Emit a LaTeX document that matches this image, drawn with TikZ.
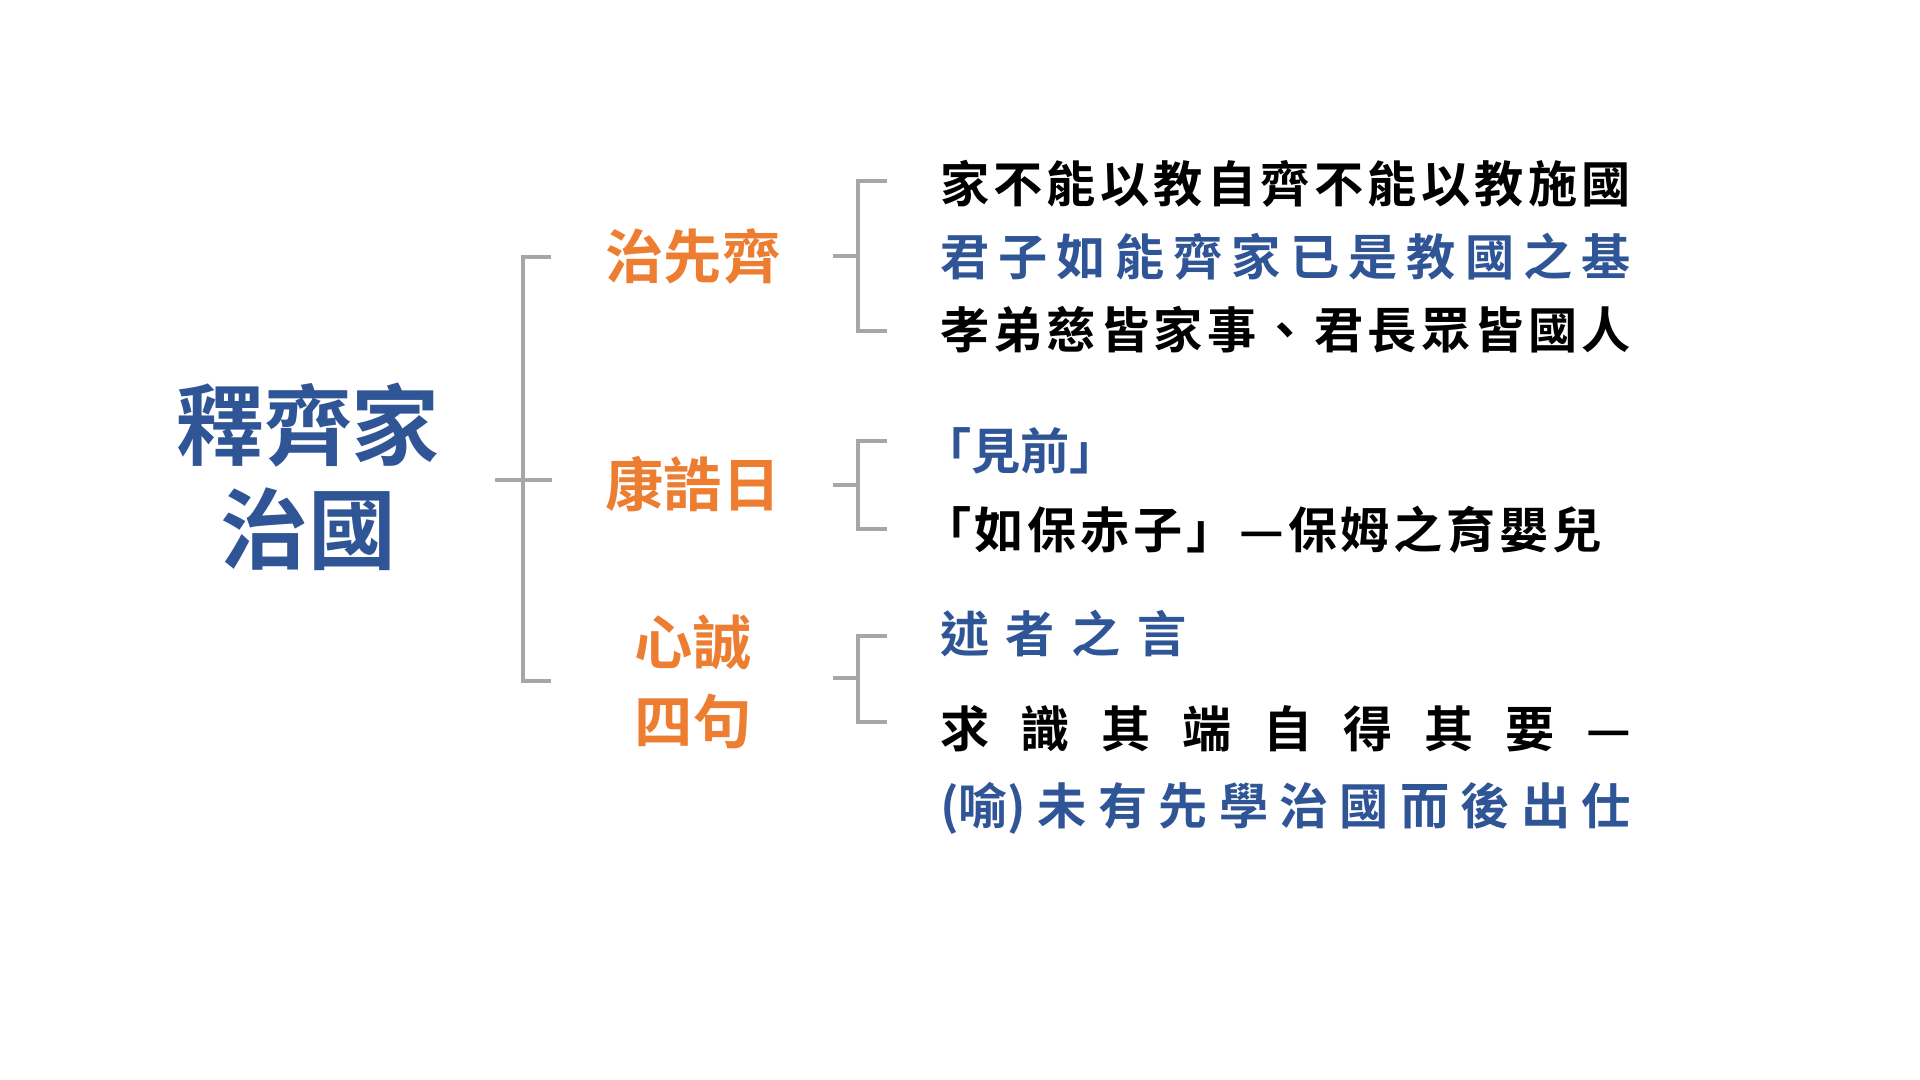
\documentclass[tikz,border=0pt]{standalone}
\usepackage{fontspec}
\setmainfont{Noto Sans CJK TC}[BoldFont={Noto Sans CJK TC Bold}]
\usetikzlibrary{positioning}
\definecolor{rootblue}{HTML}{2F5597}
\definecolor{branchorange}{HTML}{ED7D31}
\definecolor{linegray}{HTML}{A6A6A6}
\tikzset{root/.style={text=rootblue, font=\fontsize{25}{29.6}\selectfont\bfseries, align=center, inner sep=0}}
\tikzset{branch/.style={text=branchorange, font=\fontsize{16.6}{22.5}\selectfont\bfseries, align=center, inner sep=0}}
\tikzset{leaf/.style={font=\fontsize{14}{16}\selectfont\bfseries, text width=6.91cm, align=left, inner sep=0, node distance=0.73cm}}
\tikzset{line/.style={draw, linegray, line width=1pt}}

\begin{document}
\begin{tikzpicture}
    \fill[white] (0,0) rectangle (19.2,10.8);
    \useasboundingbox (0,0) rectangle (19.2,10.8);

    \node [root] (shiqi) at (3.08,6.03) {釋齊家\\治國};

    \node [branch] (zhixian) at (6.93,8.23) {治先齊};
    \node [branch] (kanggao) at (6.93,5.96) {康誥日};
    \node [branch] (xincheng) at (6.93,3.98) {心誠\\四句};

    \node [leaf, text=black] (jiaA) at (12.855,8.96) {家\hfill 不\hfill 能\hfill 以\hfill 教\hfill 自\hfill 齊\hfill 不\hfill 能\hfill 以\hfill 教\hfill 施\hfill 國};
    \node [leaf, text=rootblue, below of=jiaA] (jiaB) {君\hfill 子\hfill 如\hfill 能\hfill 齊\hfill 家\hfill 已\hfill 是\hfill 教\hfill 國\hfill 之\hfill 基};
    \node [leaf, text=black, below of=jiaB] (jiaC) {孝\hfill 弟\hfill 慈\hfill 皆\hfill 家\hfill 事\hfill 、\hfill 君\hfill 長\hfill 眾\hfill 皆\hfill 國\hfill 人};

    \node [leaf, text=rootblue] (baoA) at (12.855,6.29) {\hspace*{-0.18cm}\makebox[1.88cm][l]{「\hfill 見\hfill 前\hfill 」}};
    \node [leaf, text=black, below of=baoA, node distance=0.79cm] (baoB) {\hspace*{-0.18cm}\makebox[6.80cm][l]{「\hfill 如\hfill 保\hfill 赤\hfill 子\hfill 」\hfill —\hfill 保\hfill 姆\hfill 之\hfill 育\hfill 嬰\hfill 兒}};

    \node [leaf, text=rootblue] (shuA) at (12.855,4.46) {\makebox[2.47cm][l]{述\hfill 者\hfill 之\hfill 言}};
    \node [leaf, text=black, below of=shuA, node distance=0.95cm] (shuB) {求\hfill 識\hfill 其\hfill 端\hfill 自\hfill 得\hfill 其\hfill 要\hfill —};
    \node [leaf, text=rootblue, below of=shuB, node distance=0.79cm] (shuC) {(喻)\hfill 未\hfill 有\hfill 先\hfill 學\hfill 治\hfill 國\hfill 而\hfill 後\hfill 出\hfill 仕};

    % trunk
    \coordinate (rootstub) at (4.95,6.00);
    \coordinate (trunkjoin) at (5.23,6.00);
    \coordinate (trunkmid) at (5.52,6.00);
    \coordinate (trunktop) at (5.51,8.23);
    \coordinate (trunkbot) at (5.51,3.99);
    \path [line] (trunktop) -| (trunkjoin) |- (trunkbot);
    \path [line] (rootstub) -- (trunkmid);

    % brackets
    \coordinate (zhistub) at (8.33,8.24);
    \coordinate (zhijoin) at (8.58,8.24);
    \coordinate (zhitop) at (8.87,8.99);
    \coordinate (zhibot) at (8.87,7.49);
    \path [line] (zhitop) -| (zhijoin) |- (zhibot);
    \path [line] (zhistub) -- (zhijoin);

    \coordinate (kangstub) at (8.33,5.95);
    \coordinate (kangjoin) at (8.58,5.95);
    \coordinate (kangtop) at (8.87,6.39);
    \coordinate (kangbot) at (8.87,5.51);
    \path [line] (kangtop) -| (kangjoin) |- (kangbot);
    \path [line] (kangstub) -- (kangjoin);

    \coordinate (xinstub) at (8.33,4.02);
    \coordinate (xinjoin) at (8.58,4.02);
    \coordinate (xintop) at (8.87,4.44);
    \coordinate (xinbot) at (8.87,3.58);
    \path [line] (xintop) -| (xinjoin) |- (xinbot);
    \path [line] (xinstub) -- (xinjoin);
\end{tikzpicture}
\end{document}
